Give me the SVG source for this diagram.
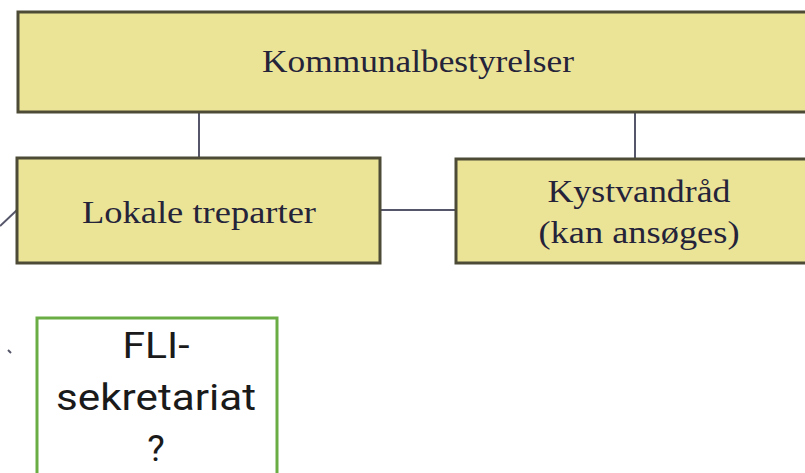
<svg xmlns="http://www.w3.org/2000/svg" width="805" height="473" viewBox="0 0 805 473">
<style>
.box{fill:#ebe497;stroke:#4d4b36;stroke-width:3}
.green{fill:#ffffff;stroke:#6aad45;stroke-width:3}
.con{stroke:#55566a;stroke-width:2;fill:none}
.serif{font-family:"Liberation Serif","DejaVu Serif",serif;font-size:31px;fill:#25233a;text-anchor:middle}
.sans{font-family:Roboto,"Liberation Sans",sans-serif;font-size:37px;fill:#1a1a1a;text-anchor:middle}
</style>
<rect width="805" height="473" fill="#ffffff"/>
<g id="connectors">
<line class="con" x1="199" y1="112" x2="199" y2="158"/>
<line class="con" x1="635" y1="112" x2="635" y2="159"/>
<line class="con" x1="380" y1="210" x2="456" y2="210"/>
<line class="con" x1="0" y1="226" x2="17" y2="210"/>
<line class="con" x1="8" y1="350" x2="11" y2="353"/>
</g>
<g id="kommunalbestyrelser">
<rect class="box" x="18" y="12" width="800" height="100"/>
<text class="serif" x="418" y="72" textLength="312" lengthAdjust="spacingAndGlyphs">Kommunalbestyrelser</text>
</g>
<g id="lokale-treparter">
<rect class="box" x="17" y="158" width="363" height="105"/>
<text class="serif" x="199" y="223" textLength="234" lengthAdjust="spacingAndGlyphs">Lokale treparter</text>
</g>
<g id="kystvandraad">
<rect class="box" x="456" y="159" width="360" height="104"/>
<text class="serif" x="639" y="202" textLength="183" lengthAdjust="spacingAndGlyphs">Kystvandråd</text>
<text class="serif" x="639" y="243" textLength="201" lengthAdjust="spacingAndGlyphs">(kan ansøges)</text>
</g>
<g id="fli-sekretariat">
<rect class="green" x="37" y="318" width="240" height="170"/>
<text class="sans" x="156" y="358" textLength="67" lengthAdjust="spacingAndGlyphs">FLI-</text>
<text class="sans" x="156" y="410" textLength="200" lengthAdjust="spacingAndGlyphs">sekretariat</text>
<text class="sans" x="156" y="461">?</text>
</g>
</svg>
